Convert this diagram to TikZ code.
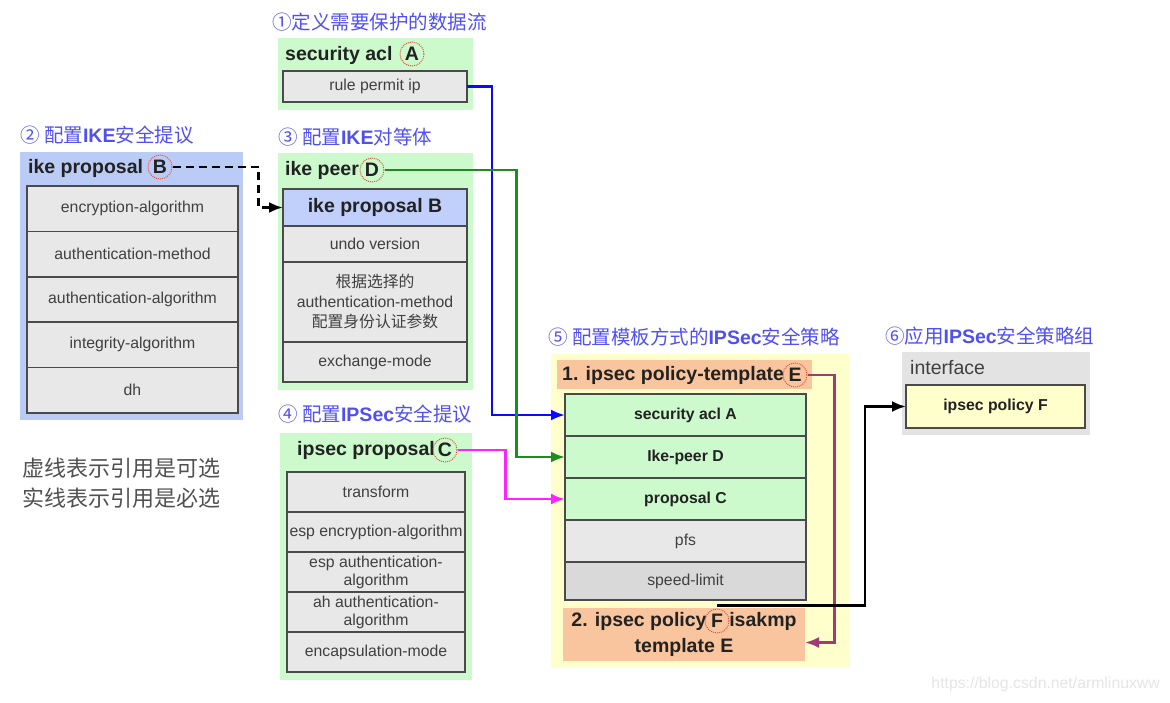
\documentclass[tikz,border=0pt]{standalone}
\usepackage{fontspec}
\setmainfont{Liberation Sans}
\newfontfamily\cjk{Noto Sans CJK SC}
\usetikzlibrary{arrows.meta,positioning}
\definecolor{panelgreen}{HTML}{CCFACC}
\definecolor{panelblue}{HTML}{BACCF6}
\definecolor{panelyellow}{HTML}{FFFFCC}
\definecolor{peach}{HTML}{F9C59E}
\definecolor{ifgray}{HTML}{E3E3E3}
\definecolor{cellgray}{HTML}{E8E8E8}
\definecolor{cellgrayd}{HTML}{D9D9D9}
\definecolor{cellblue}{HTML}{C0D0FA}
\definecolor{cellgreen}{HTML}{CCFACC}
\definecolor{cellyellow}{HTML}{FFFFCC}
\definecolor{rowline}{HTML}{4A4A4A}
\definecolor{celltext}{HTML}{404040}
\definecolor{hdrtext}{HTML}{222222}
\definecolor{notegray}{HTML}{505050}
\definecolor{titleblue}{HTML}{5050F0}
\definecolor{tagred}{HTML}{E8503C}
\definecolor{connblue}{HTML}{0A0AFF}
\definecolor{conngreen}{HTML}{1E8C1E}
\definecolor{connpink}{HTML}{FF22FF}
\definecolor{connpurple}{HTML}{9E3C78}

\newcommand\cellfont{\fontsize{15.8}{18}\selectfont}
\newcommand\headfont{\fontsize{19.5}{26}\selectfont\bfseries}
\newcommand\lat[1]{{\normalfont\bfseries #1}}

\begin{document}
\begin{tikzpicture}[x=1pt, y=-1pt,
    panel/.style={fill=#1, draw=none, anchor=north west,
                  inner sep=0pt, outer sep=0pt},
    cell/.style={draw=rowline, line width=1.5pt, fill=#1, text=celltext,
                 font=\cellfont, align=center, inner sep=0pt,
                 outer sep=0pt, anchor=north west},
    cell/.default=cellgray,
    hdr/.style={anchor=west, font=\headfont, text=hdrtext, inner sep=0pt},
    tag/.style={circle, draw=tagred, densely dotted, line width=1pt,
                minimum size=24pt, inner sep=0pt, font=\headfont, text=hdrtext},
    ttl/.style={anchor=west, font=\fontsize{19.5}{24}\selectfont\cjk,
                text=titleblue, inner sep=0pt},
    conn/.style={-{Latex[length=14pt,width=11pt]}, line width=2.4pt}
  ]
    \useasboundingbox (0,0) rectangle (1170,702);
    \fill[white] (0,0) rectangle (1170,702);

    % (1) security acl
    \node[ttl] (t1) at (272,22) {①定义需要保护的数据流};
    \node[panel=panelgreen, minimum width=195pt, minimum height=72pt] (pnlacl) at (278,38) {};
    \node[hdr] (hacl) at (285,55) {security acl};
    \node[tag] (tagA) at (412,54) {A};
    \node[cell, minimum width=184pt, minimum height=31pt] (rule) at (283,71) {rule permit ip};

    % (2) ike proposal
    \node[ttl] (t2) at (20,135) {② 配置\lat{IKE}安全提议};
    \node[panel=panelblue, minimum width=223pt, minimum height=268pt] (pnlike) at (20,152) {};
    \node[hdr] (hike) at (28,168) {ike proposal};
    \node[tag] (tagB) at (160,167) {B};
    \node[cell, minimum width=211pt, minimum height=45.4pt] (ik1) at (27,186) {encryption-algorithm};
    \node[cell, minimum width=211pt, minimum height=45.4pt, below=0pt of ik1] (ik2) {authentication-method};
    \node[cell, minimum width=211pt, minimum height=45.4pt, below=0pt of ik2] (ik3) {authentication-algorithm};
    \node[cell, minimum width=211pt, minimum height=45.4pt, below=0pt of ik3] (ik4) {integrity-algorithm};
    \node[cell, minimum width=211pt, minimum height=45.4pt, below=0pt of ik4] (ik5) {dh};

    % (3) ike peer
    \node[ttl] (t3) at (278,137) {③ 配置\lat{IKE}对等体};
    \node[panel=panelgreen, minimum width=195pt, minimum height=237pt] (pnlpeer) at (278,153) {};
    \node[hdr] (hpeer) at (285,170) {ike peer};
    \node[tag] (tagD) at (372,170) {D};
    \node[cell=cellblue, minimum width=184pt, minimum height=37pt, font=\headfont, text=hdrtext] (pr0) at (283,189) {ike proposal B};
    \node[cell, minimum width=184pt, minimum height=36pt, below=0pt of pr0] (pr1) {undo version};
    \node[cell, minimum width=184pt, minimum height=80pt, font=\fontsize{15.8}{20}\selectfont, below=0pt of pr1] (pr2)
      {{\cjk 根据选择的}\\authentication-method\\{\cjk 配置身份认证参数}};
    \node[cell, minimum width=184pt, minimum height=40pt, below=0pt of pr2] (pr3) {exchange-mode};

    % (4) ipsec proposal
    \node[ttl] (t4) at (278,414) {④ 配置\lat{IPSec}安全提议};
    \node[panel=panelgreen, minimum width=192pt, minimum height=247pt] (pnlipp) at (280,433) {};
    \node[hdr] (hipp) at (297,450) {ipsec proposal};
    \node[tag] (tagC) at (445,450) {C};
    \node[cell, minimum width=178pt, minimum height=40pt] (ip1) at (287,472) {transform};
    \node[cell, minimum width=178pt, minimum height=40pt, below=0pt of ip1] (ip2) {esp encryption-algorithm};
    \node[cell, minimum width=178pt, minimum height=40pt, below=0pt of ip2] (ip3) {esp authentication-\\algorithm};
    \node[cell, minimum width=178pt, minimum height=40pt, below=0pt of ip3] (ip4) {ah authentication-\\algorithm};
    \node[cell, minimum width=178pt, minimum height=40pt, below=0pt of ip4] (ip5) {encapsulation-mode};

    % (5) ipsec policy-template
    \node[ttl] (t5) at (548,337) {⑤ 配置模板方式的\lat{IPSec}安全策略};
    \node[panel=panelyellow, minimum width=298pt, minimum height=313pt] (pnlpol) at (551,354) {};
    \node[panel=peach, minimum width=255pt, minimum height=29pt] (tplhdr) at (557,360) {};
    \node[hdr] (htpl) at (562,375) {1. ipsec policy-template};
    \node[tag] (tagE) at (795,375) {E};
    \node[cell=cellgreen, minimum width=241pt, minimum height=42pt, font=\cellfont\bfseries, text=hdrtext] (psec) at (565,394) {security acl A};
    \node[cell=cellgreen, minimum width=241pt, minimum height=42pt, font=\cellfont\bfseries, text=hdrtext, below=0pt of psec] (ppeer) {Ike-peer D};
    \node[cell=cellgreen, minimum width=241pt, minimum height=42pt, font=\cellfont\bfseries, text=hdrtext, below=0pt of ppeer] (pprop) {proposal C};
    \node[cell, minimum width=241pt, minimum height=42pt, below=0pt of pprop] (ppfs) {pfs};
    \node[cell=cellgrayd, minimum width=241pt, minimum height=38pt, below=0pt of ppfs] (pspd) {speed-limit};
    \node[panel=peach, minimum width=242pt, minimum height=53pt, align=center, font=\headfont, text=hdrtext] (tplfoot) at (563,608)
      {2. ipsec policy \phantom{F} isakmp\\template E};
    \node[tag] (tagF) at (717,621) {F};

    % (6) interface
    \node[ttl] (t6) at (885,336) {⑥应用\lat{IPSec}安全策略组};
    \node[panel=ifgray, minimum width=188pt, minimum height=83pt] (pnlif) at (902,352) {};
    \node[hdr, font=\fontsize{19.5}{24}\selectfont, text=celltext] (hif) at (910,368) {interface};
    \node[cell=cellyellow, minimum width=179pt, minimum height=43pt, font=\cellfont\bfseries, text=hdrtext] (ipF) at (906,385) {ipsec policy F};

    % Notes
    \node[anchor=north west, align=left, font=\fontsize{22}{30}\selectfont\cjk, text=notegray, inner sep=0pt] (note) at (22,458)
      {虚线表示引用是可选\\实线表示引用是必选};
    \node[anchor=east, font=\cellfont, text=black!10, inner sep=0pt] (wm) at (1160,684) {https://blog.csdn.net/armlinuxww};

    % References
    \draw[conn, connblue] (rule.east) -- ++(25,0) |- (psec.west);
    \draw[conn, conngreen] (tagD.east) -- ++(132,0) |- (ppeer.west);
    \draw[conn, connpink] (tagC.east) -- ++(48,0) |- (pprop.west);
    \draw[conn, black, line width=2.6pt, dash pattern=on 8pt off 5pt] (tagB.east) -- ++(86,0) |- (pr0.west);
    \draw[conn, connpurple] (tagE.east) -- ++(27,0) |- ([yshift=-8pt]tplfoot.east);
    \draw[conn, black] ([yshift=3pt]tagF.north) -- ++(148,0) |- (ipF.west);
  \end{tikzpicture}
\end{document}
